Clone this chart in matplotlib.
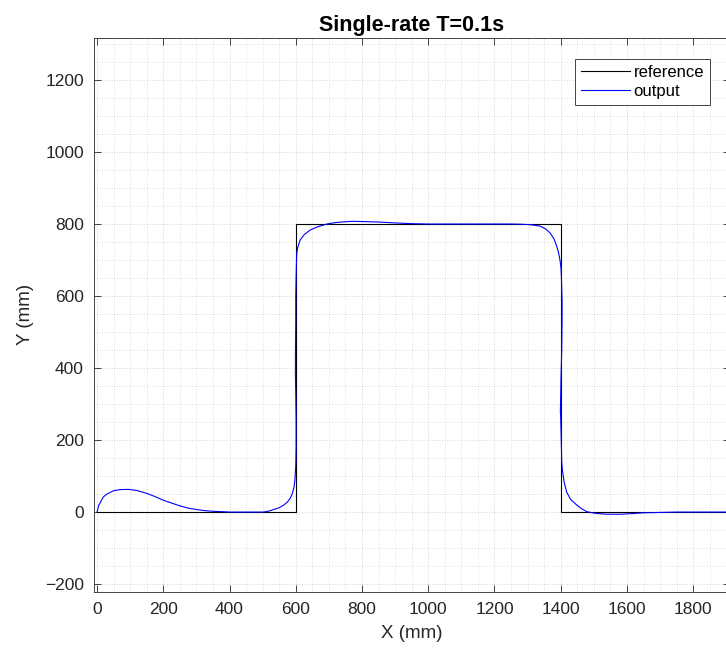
import numpy as np
import matplotlib.pyplot as plt
from matplotlib.ticker import MultipleLocator

plt.rcParams['font.family'] = ['Liberation Sans', 'DejaVu Sans']

# reference square path (mm)
ref_x = [0, 600, 600, 1400, 1400, 1950]
ref_y = [0, 0, 800, 800, 0, 0]

# tracked output (mm)
out_x = [0, 5, 19, 30, 49, 70, 95, 120, 150, 175, 200, 225, 251, 275, 301,
         325, 352, 380, 402, 450, 503, 520, 533, 550, 563, 575, 583, 590, 595,
         598, 600, 601, 601, 600, 599, 599, 600, 600, 601, 602, 603, 606, 613,
         625, 643, 665, 694, 720, 744, 770, 794, 850, 900, 950, 1000, 1100,
         1200, 1250, 1277, 1310, 1338, 1355, 1368, 1380, 1388, 1394, 1398,
         1401, 1402, 1404, 1404, 1403, 1401, 1400, 1399, 1400, 1401, 1402,
         1403, 1405, 1410, 1418, 1430, 1449, 1465, 1479, 1495, 1510, 1540,
         1580, 1620, 1650, 1700, 1750, 1950]
out_y = [0, 18, 42, 50, 59, 62.5, 63, 60, 52, 43, 33, 25, 17, 11, 7,
         4, 2, 1, 0, 0, 0, 3, 7, 12, 19, 28, 38, 52, 70,
         95, 130, 180, 255, 330, 380, 430, 533, 600, 650, 690, 718, 735, 755,
         770, 783, 792, 800, 804, 806, 807.5, 807, 805.5, 803, 801, 800, 800,
         800, 800, 799.5, 798, 794, 786, 775, 758, 738, 718, 698,
         675, 652, 587, 532, 450, 380, 330, 280, 255, 220, 180,
         140, 116, 85, 55, 35, 19, 8, 1, -2, -4, -6,
         -6, -4, -2, -1, 0, 0]

x_ticks = np.arange(0, 1801, 200)
y_ticks = np.arange(-200, 1201, 200)

W, H = 726, 659
fig = plt.figure(figsize=(W / 100, H / 100), dpi=100)
ax = fig.add_axes([93.5 / W, 67 / H, (730 - 93.5) / W, (592 - 37.5) / H])

ax.plot(ref_x, ref_y, color='black', lw=0.8, label='reference')
ax.plot(out_x, out_y, color='blue', lw=0.8, label='output')

ax.set_xlim(-10.6, 1911)
ax.set_ylim(-222, 1318)
ax.set_xticks(x_ticks)
ax.set_yticks(y_ticks)
ax.xaxis.set_minor_locator(MultipleLocator(50))
ax.yaxis.set_minor_locator(MultipleLocator(50))

grid_col = (0.15, 0.15, 0.15)
ax.grid(which='major', color=grid_col, alpha=0.25, lw=0.6, ls=(0, (1, 2)))
ax.grid(which='minor', color=grid_col, alpha=0.2, lw=0.6, ls=(0, (1, 2)))
ax.set_axisbelow(True)

ax.tick_params(which='major', direction='in', length=5, width=0.6,
               top=True, right=True, labelsize=12.5, colors=grid_col, pad=7)
ax.tick_params(which='minor', length=0)
for s in ax.spines.values():
    s.set_color(grid_col)
    s.set_linewidth(0.6)

ax.set_xlabel('X (mm)', fontsize=13.5, color=grid_col, labelpad=6)
ax.set_ylabel('Y (mm)', fontsize=13.5, color=grid_col, labelpad=8)
ax.set_title('Single-rate T=0.1s', fontsize=15.5, fontweight='bold', pad=5)

leg = ax.legend(loc='upper right', bbox_to_anchor=(710 / W, 1 - 59.3 / H),
                bbox_transform=fig.transFigure, fontsize=12, fancybox=False,
                framealpha=1, edgecolor=grid_col, handlelength=2.9,
                handletextpad=0.25, borderpad=0.35, labelspacing=0.25,
                borderaxespad=0)
leg.get_frame().set_linewidth(0.6)

fig.savefig('out.png', dpi=100)
